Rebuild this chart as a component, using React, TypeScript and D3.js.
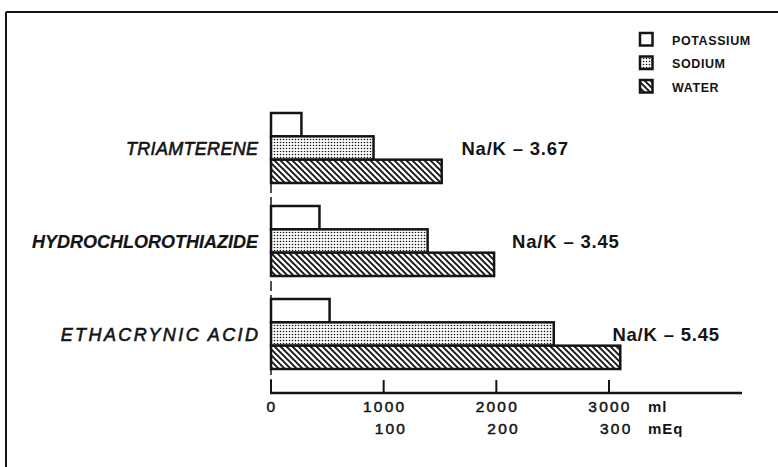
import React from "react";
import * as d3 from "d3";

const drugs = ["TRIAMTERENE", "HYDROCHLOROTHIAZIDE", "ETHACRYNIC ACID"];
const potassiumMEq = [27, 43, 52];
const sodiumMEq = [91, 139, 251];
const waterMl = [1515, 1980, 3100];
const ratioLabels = ["Na/K – 3.67", "Na/K – 3.45", "Na/K – 5.45"];
const ratioLabelAtMl = [1690, 2140, 3030];
const mlTicks = [0, 1000, 2000, 3000];
const mEqTicks = [100, 200, 300];
const legendItems = ["POTASSIUM", "SODIUM", "WATER"];
const seriesKeys = ["K", "Na", "W"];

const W = 778;
const H = 467;
const INK = "#141414";
const FONT = "'Liberation Sans', Arial, sans-serif";

export default function App() {
  const x0 = 271;
  const xMl = d3.scaleLinear().domain([0, 3000]).range([x0, 609]);
  const xEq = d3.scaleLinear().domain([0, 300]).range([x0, 609]);
  const yGroup = d3.scaleBand<string>().domain(drugs).range([113, 369]).paddingInner(23 / 93).paddingOuter(0);
  const ySub = d3.scaleBand<string>().domain(seriesKeys).range([0, yGroup.bandwidth()]).padding(0);
  const axisY = 393;

  const fills: Record<string, string> = { K: "#ffffff", Na: "url(#dots)", W: "url(#hatch)" };
  const labelStyle = [
    { weight: 400, spacing: 0.3, stroke: 0.6 },
    { weight: 700, spacing: 0, stroke: 0.2 },
    { weight: 400, spacing: 2.4, stroke: 0.6 },
  ];

  return (
    <svg
      width={W}
      height={H}
      viewBox={`0 0 ${W} ${H}`}
      style={{ position: "absolute", left: 0, top: 0, background: "#fff" }}
    >
      <defs>
        <pattern id="dots" width={3} height={3} patternUnits="userSpaceOnUse">
          <rect width={3} height={3} fill="#fff" />
          <circle cx={1.5} cy={1.5} r={0.8} fill={INK} />
        </pattern>
        <pattern id="hatch" width={6} height={6} patternUnits="userSpaceOnUse">
          <rect width={6} height={6} fill="#fff" />
          <path d="M-1,-1 L7,7 M-4,2 L2,8 M2,-4 L8,2" stroke={INK} strokeWidth={1.9} />
        </pattern>
      </defs>

      {/* frame */}
      <line x1={6} y1={12} x2={W} y2={12} stroke={INK} strokeWidth={2} />
      <line x1={6} y1={12} x2={6} y2={H} stroke={INK} strokeWidth={2} />

      {/* vertical baseline */}
      <line x1={x0} y1={yGroup(drugs[0])!} x2={x0} y2={axisY} stroke={INK} strokeWidth={1.5} strokeDasharray="10 4" />

      {/* bars */}
      {drugs.map((d, i) => {
        const gy = yGroup(d)!;
        const vals = [xEq(potassiumMEq[i]), xEq(sodiumMEq[i]), xMl(waterMl[i])];
        return (
          <g key={d}>
            {seriesKeys.map((k, j) => (
              <rect
                key={k}
                x={x0}
                y={gy + ySub(k)!}
                width={vals[j] - x0}
                height={ySub.bandwidth()}
                fill={fills[k]}
                stroke={INK}
                strokeWidth={2.5}
              />
            ))}
            <text
              x={258 + labelStyle[i].spacing}
              y={gy + yGroup.bandwidth() / 2 + 6.5}
              textAnchor="end"
              fontFamily={FONT}
              fontStyle="italic"
              fontWeight={labelStyle[i].weight}
              fontSize={18}
              letterSpacing={labelStyle[i].spacing}
              fill={INK}
              stroke={INK}
              strokeWidth={labelStyle[i].stroke}
            >
              {d}
            </text>
            <text
              x={xMl(ratioLabelAtMl[i])}
              y={gy + yGroup.bandwidth() / 2 + 6.5}
              fontFamily={FONT}
              fontWeight={700}
              fontSize={18.5}
              letterSpacing={0.8}
              fill={INK}
            >
              {ratioLabels[i]}
            </text>
          </g>
        );
      })}

      {/* x axis */}
      <line x1={x0 - 1} y1={axisY} x2={742} y2={axisY} stroke={INK} strokeWidth={2.5} />
      {mlTicks.map((t) => (
        <g key={t}>
          <line x1={xMl(t)} y1={axisY} x2={xMl(t)} y2={axisY - 13} stroke={INK} strokeWidth={2} />
          <text
            x={xMl(t) + 1}
            y={412}
            textAnchor="middle"
            fontFamily={FONT}
            fontSize={15.5}
            letterSpacing={2.2}
            fill={INK}
            stroke={INK}
            strokeWidth={0.5}
          >
            {t}
          </text>
        </g>
      ))}
      {mEqTicks.map((t) => (
        <text
          key={t}
          x={xEq(t) + 23.5}
          y={434}
          textAnchor="end"
          fontFamily={FONT}
          fontSize={15.5}
          letterSpacing={2.2}
          fill={INK}
          stroke={INK}
          strokeWidth={0.5}
        >
          {t}
        </text>
      ))}
      <text x={648} y={412} fontFamily={FONT} fontSize={15} fontWeight={700} letterSpacing={1} fill={INK}>
        ml
      </text>
      <text x={648} y={434} fontFamily={FONT} fontSize={15} fontWeight={700} letterSpacing={1} fill={INK}>
        mEq
      </text>

      {/* legend */}
      {legendItems.map((name, i) => {
        const ly = 33 + i * 23.5;
        return (
          <g key={name}>
            <rect x={640} y={ly} width={12.5} height={12.5} fill={fills[seriesKeys[i]]} stroke={INK} strokeWidth={2.5} />
            <text
              x={672}
              y={ly + 11.5}
              fontFamily={FONT}
              fontWeight={700}
              fontSize={12.5}
              letterSpacing={0.6}
              fill={INK}
            >
              {name}
            </text>
          </g>
        );
      })}
    </svg>
  );
}
